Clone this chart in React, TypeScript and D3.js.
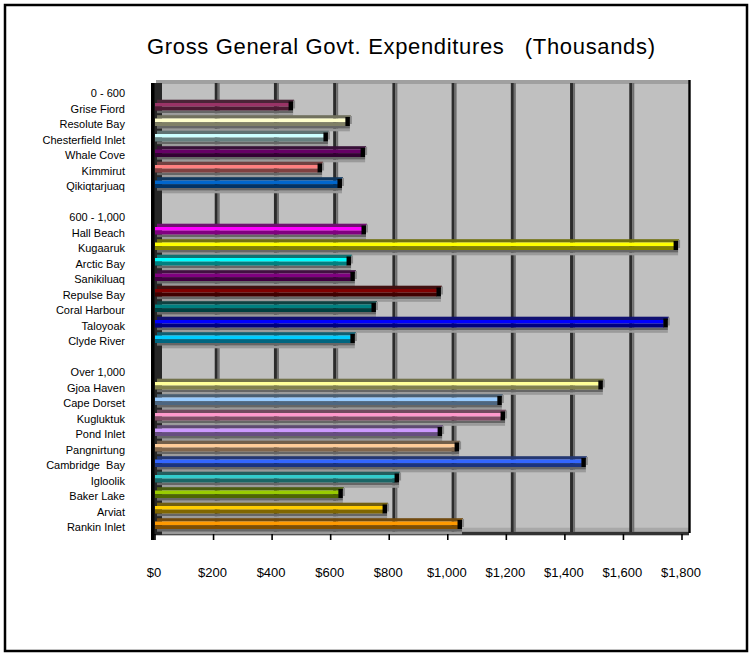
import React from "react";
import * as d3 from "d3";

const title = "Gross General Govt. Expenditures   (Thousands)";

const categories: string[] = [
  "0 - 600", "Grise Fiord", "Resolute Bay", "Chesterfield Inlet", "Whale Cove", "Kimmirut", "Qikiqtarjuaq",
  "",
  "600 - 1,000", "Hall Beach", "Kugaaruk", "Arctic Bay", "Sanikiluaq", "Repulse Bay", "Coral Harbour", "Taloyoak", "Clyde River",
  "",
  "Over 1,000", "Gjoa Haven", "Cape Dorset", "Kugluktuk", "Pond Inlet", "Pangnirtung", "Cambridge  Bay", "Igloolik", "Baker Lake", "Arviat", "Rankin Inlet",
];

const values: (number | null)[] = [
  null, 458, 652, 577, 704, 557, 625,
  null,
  null, 707, 1773, 656, 669, 963, 741, 1738, 669,
  null,
  null, 1516, 1171, 1182, 967, 1025, 1458, 820, 628, 779, 1035,
];

const colors: (string | null)[] = [
  null, "#993366", "#FFFFCC", "#CCFFFF", "#660066", "#FF8080", "#0066CC",
  null,
  null, "#FF00FF", "#FFFF00", "#00FFFF", "#800080", "#800000", "#008080", "#0000FF", "#00CCFF",
  null,
  null, "#FFFF99", "#99CCFF", "#FF99CC", "#CC99FF", "#FFCC99", "#3366FF", "#33CCCC", "#99CC00", "#FFCC00", "#FF9900",
];

const ticks = [0, 200, 400, 600, 800, 1000, 1200, 1400, 1600, 1800];
const tickLabel = (v: number) => "$" + d3.format(",")(v);

export default function App() {
  const W = 755, H = 658;
  const xf = d3.scaleLinear().domain([0, 1800]).range([155, 682]); // front
  const xb = d3.scaleLinear().domain([0, 1800]).range([157, 690]); // back wall
  const y = d3.scaleBand<number>().domain(categories.map((_, i) => i)).range([82, 82 + 29 * 15.5]).padding(0);
  const step = y.step();

  const font = "'Liberation Sans', Arial, sans-serif";

  return (
    <svg width={W} height={H} style={{ position: "absolute", left: 0, top: 0, display: "block", background: "#fff" }}>
      <rect x={5} y={5} width={742} height={646} fill="#fff" stroke="#000" strokeWidth={2.5} />
      <text x={147} y={54} textLength={508} lengthAdjust="spacing" fontFamily={font} fontSize={22} style={{ whiteSpace: "pre" }} xmlSpace="preserve">
        {title}
      </text>

      {/* back wall */}
      <rect x={156} y={84} width={533} height={447} fill="#C0C0C0" />
      {/* top strip */}
      <rect x={156} y={80} width={533} height={4} fill="#A0A0A0" />
      {/* floor */}
      <rect x={151} y={527.7} width={538} height={4} fill="#A8A8A8" />
      <rect x={151} y={531.7} width={538} height={3.6} fill="#333" />

      {/* grid lines */}
      {ticks.slice(1, -1).map((t) => (
        <g key={"g" + t}>
          <rect x={xb(t) - 1.5} y={83} width={3} height={449} fill="#2b2b2b" />
          <rect x={xb(t) + 1.5} y={83} width={2} height={449} fill="#6e6e6e" />
        </g>
      ))}
      {/* right edge */}
      <rect x={688.3} y={80} width={2.4} height={453} fill="#000" />

      {/* left wall */}
      <rect x={154} y={83} width={8} height={452} fill="#262626" />
      <rect x={151} y={83} width={3.5} height={457} fill="#000" />

      {/* bars */}
      {values.map((v, i) => {
        if (v == null) return null;
        const c = colors[i] as string;
        const t = (y(i) as number) + 5.5;
        const x0 = 155;
        const xe = xf(v);
        const top = d3.interpolateRgb(c, "#1a1a1a")(0.62);
        const dark = d3.interpolateRgb(c, "#000")(0.5);
        return (
          <g key={"b" + i}>
            <rect x={x0 + 2} y={t + 7.5} width={xe - x0 + 2} height={2.7} fill="#666" />
            <rect x={x0 + 7} y={t + 10.2} width={xe - x0 - 3} height={2.6} fill="#9a9a9a" />
            <rect x={x0 + 2} y={t - 3.3} width={xe - x0 + 3} height={3.3} fill={top} />
            <rect x={xe + 4} y={t - 2.5} width={2} height={8} fill="#8a8a8a" />
            <rect x={x0} y={t} width={xe - x0} height={3.6} fill={c} />
            <rect x={x0} y={t + 3.6} width={xe - x0} height={3.9} fill={dark} />
            <rect x={xe - 0.5} y={t - 1.5} width={4.5} height={9} fill="#000" />
          </g>
        );
      })}

      {/* category labels */}
      {categories.map((name, i) =>
        name ? (
          <text
            key={"l" + i}
            x={125}
            y={(y(i) as number) + step / 2 + 3.5}
            dy="0.35em"
            textAnchor="end"
            fontFamily={font}
            fontSize={11}
            style={{ whiteSpace: "pre" }}
          >
            {name}
          </text>
        ) : null
      )}

      {/* ticks */}
      {ticks.map((t) => (
        <g key={"t" + t}>
          <line x1={xf(t)} x2={xf(t)} y1={534} y2={540} stroke="#000" strokeWidth={1.6} />
          <text x={xf(t) - 1} y={572} dy="0.35em" textAnchor="middle" fontFamily={font} fontSize={13}>
            {tickLabel(t)}
          </text>
        </g>
      ))}
    </svg>
  );
}
